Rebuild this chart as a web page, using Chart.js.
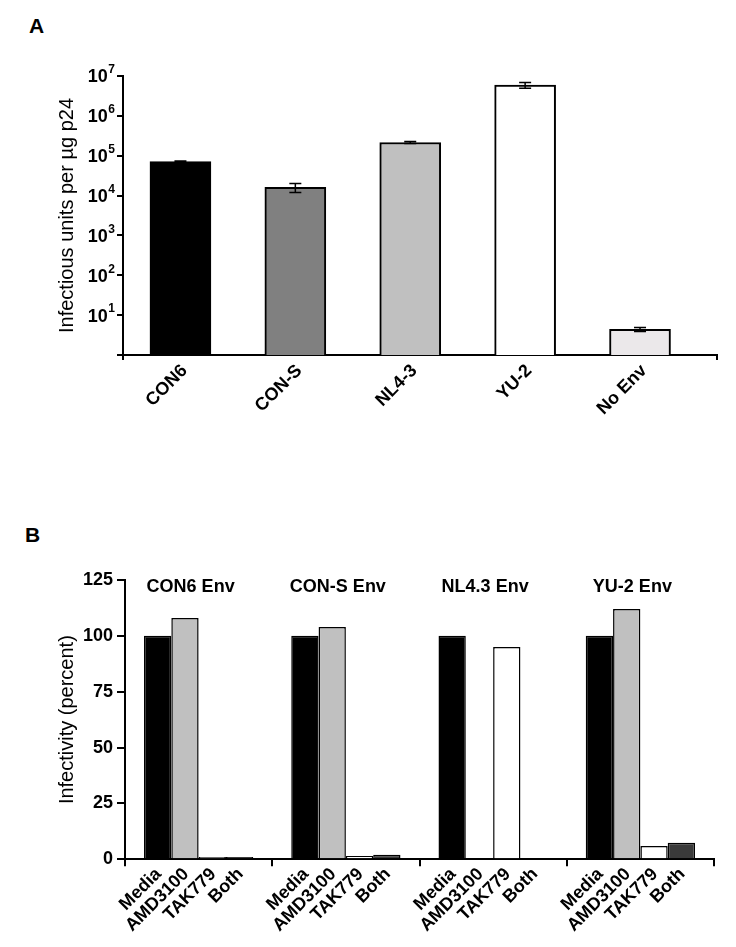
<!DOCTYPE html>
<html lang="en">
<head>
<meta charset="UTF-8">
<title>Infectivity of Env pseudoviruses</title>
<script src="https://cdn.jsdelivr.net/npm/chart.js@4.4.1/dist/chart.umd.min.js"></script>
<style>
    body { margin: 0; background: #fff; font-family: "Liberation Sans", Arial, sans-serif; }
    .panel-label { position: absolute; font-weight: bold; font-size: 21px; line-height: 1; }
    .chart-wrap { position: absolute; left: 0; width: 736px; }
</style>
</head>
<body>
<div class="panel-label" style="left:29px; top:15px;">A</div>
<div class="chart-wrap" style="top:0; height:460px;"><canvas id="chart-a"></canvas></div>
<div class="panel-label" style="left:25px; top:524px;">B</div>
<div class="chart-wrap" style="top:500px; height:447px;"><canvas id="chart-b"></canvas></div>

<script>
// Panel A: infectious units per ug p24 (log scale)
const envNames = ['CON6', 'CON-S', 'NL4-3', 'YU-2', 'No Env'];
const infectiousUnits = [71000, 16000, 215000, 5900000, 4.4];
const infectiousErr = [3000, 4000, 12000, 1000000, 0.5];
const barColorsA = ['#000000', '#808080', '#c0c0c0', '#ffffff', '#ebe8ea'];
const logTicks = [1, 10, 100, 1e3, 1e4, 1e5, 1e6, 1e7];

// Panel B: infectivity (percent) with entry inhibitors
const envGroups = ['CON6 Env', 'CON-S Env', 'NL4.3 Env', 'YU-2 Env'];
const media = [100, 100, 100, 100];
const amd3100 = [108, 104, 0, 112];
const tak779 = [1, 1.5, 95, 6];
const both = [1, 2, 0, 7.4];
const percentTicks = [0, 25, 50, 75, 100, 125];

const FONT = '"Liberation Sans", Arial, sans-serif';
Chart.defaults.font.family = FONT;
Chart.defaults.color = '#000';

// 45 degree label under a bar, right end anchored near the bar centre
function drawSlanted(ctx, text, x, y) {
    ctx.save();
    ctx.translate(x, y);
    ctx.rotate(-Math.PI / 4);
    ctx.fillText(text, 0, 0);
    ctx.restore();
}

// draws 10^n labels with a raised exponent next to each log tick
const powerLabels = {
    id: 'powerLabels',
    afterDraw(chart) {
        const { ctx, chartArea } = chart;
        const y = chart.scales.y;
        ctx.save();
        ctx.fillStyle = '#000';
        ctx.textBaseline = 'middle';
        logTicks.forEach(v => {
            if (v === 1) return;
            const py = y.getPixelForValue(v);
            const exp = String(Math.round(Math.log10(v)));
            const right = chartArea.left - 8;
            ctx.font = 'bold 12px ' + FONT;
            const ew = ctx.measureText(exp).width;
            ctx.textAlign = 'right';
            ctx.fillText(exp, right, py - 6);
            ctx.font = 'bold 18px ' + FONT;
            ctx.fillText('10', right - ew - 0.5, py + 1.5);
        });
        // category names under the bars
        ctx.font = 'bold 18px ' + FONT;
        ctx.textAlign = 'right';
        chart.getDatasetMeta(0).data.forEach((bar, i) => {
            drawSlanted(ctx, envNames[i], bar.x + 4, chartArea.bottom + 13);
        });
        ctx.restore();
    }
};

const errorBars = {
    id: 'errorBars',
    afterDatasetsDraw(chart) {
        const { ctx } = chart;
        const y = chart.scales.y;
        const meta = chart.getDatasetMeta(0);
        ctx.save();
        ctx.strokeStyle = '#000';
        ctx.lineWidth = 1.5;
        meta.data.forEach((bar, i) => {
            const v = infectiousUnits[i];
            const e = infectiousErr[i];
            const top = y.getPixelForValue(v + e);
            const bot = y.getPixelForValue(v - e);
            ctx.beginPath();
            ctx.moveTo(bar.x, top); ctx.lineTo(bar.x, bot);
            ctx.moveTo(bar.x - 6, top); ctx.lineTo(bar.x + 6, top);
            ctx.moveTo(bar.x - 6, bot); ctx.lineTo(bar.x + 6, bot);
            ctx.stroke();
        });
        ctx.restore();
    }
};

new Chart(document.getElementById('chart-a'), {
    type: 'bar',
    data: {
        datasets: [{
            data: infectiousUnits.map((v, i) => ({ x: i, y: v })),
            backgroundColor: barColorsA,
            borderColor: '#000',
            borderWidth: 2,
            barThickness: 61
        }]
    },
    options: {
        responsive: true,
        maintainAspectRatio: false,
        animation: false,
        layout: { padding: { top: 76, right: 19, left: 0, bottom: 0 } },
        plugins: { legend: { display: false }, tooltip: { enabled: false } },
        scales: {
            x: {
                type: 'linear',
                offset: false,
                min: -0.5,
                max: 4.67,
                afterBuildTicks: s => {
                    s.ticks = [s.min, ...envNames.map((_, i) => i), s.max].map(v => ({ value: v }));
                },
                afterFit: s => { s.height = 105; },
                ticks: { autoSkip: false, callback: () => '' },
                grid: {
                    offset: false,
                    drawOnChartArea: false,
                    tickLength: 5,
                    lineWidth: 2,
                    color: c => (c.tick && Number.isInteger(c.tick.value)) ? 'rgba(0,0,0,0)' : '#000'
                },
                border: { color: '#000', width: 2 }
            },
            y: {
                type: 'logarithmic',
                min: 1,
                max: 1e7,
                afterBuildTicks: s => { s.ticks = logTicks.map(v => ({ value: v })); },
                afterFit: s => { s.width = 123; },
                ticks: { padding: 3, callback: () => '' },
                grid: { drawOnChartArea: false, tickLength: 6, lineWidth: 2, color: '#000' },
                border: { color: '#000', width: 2 },
                title: {
                    display: true,
                    text: 'Infectious units per µg p24',
                    color: '#000',
                    font: { size: 20 },
                    padding: { top: 55, bottom: 0 }
                }
            }
        }
    },
    plugins: [errorBars, powerLabels]
});

const treatmentLabels = {
    id: 'treatmentLabels',
    afterDraw(chart) {
        const { ctx, chartArea } = chart;
        const x = chart.scales.x;
        ctx.save();
        ctx.fillStyle = '#000';
        ctx.font = 'bold 18px ' + FONT;
        ctx.textAlign = 'right';
        ctx.textBaseline = 'middle';
        chart.data.datasets.forEach((ds, i) => {
            chart.getDatasetMeta(i).data.forEach(bar => {
                drawSlanted(ctx, ds.label, bar.x + 1, chartArea.bottom + 12);
            });
        });
        // env group titles above the bars
        ctx.textAlign = 'center';
        envGroups.forEach((g, i) => {
            ctx.fillText(g, x.getPixelForValue(i) - 8, chartArea.top + 7);
        });
        ctx.restore();
    }
};

const barStyle = { borderColor: '#000', borderWidth: 1.5, barPercentage: 1, categoryPercentage: 0.742 };

new Chart(document.getElementById('chart-b'), {
    type: 'bar',
    data: {
        labels: envGroups,
        datasets: [
            { label: 'Media', data: media, backgroundColor: '#000000', ...barStyle },
            { label: 'AMD3100', data: amd3100, backgroundColor: '#c0c0c0', ...barStyle },
            { label: 'TAK779', data: tak779, backgroundColor: '#ffffff', ...barStyle },
            { label: 'Both', data: both, backgroundColor: '#3a3a3a', ...barStyle }
        ]
    },
    options: {
        responsive: true,
        maintainAspectRatio: false,
        animation: false,
        layout: { padding: { top: 80, right: 22, left: 0, bottom: 0 } },
        plugins: { legend: { display: false }, tooltip: { enabled: false } },
        scales: {
            x: {
                afterFit: s => { s.height = 87.7; },
                ticks: { display: false },
                grid: { offset: true, drawOnChartArea: false, tickLength: 7, lineWidth: 2, color: '#000' },
                border: { color: '#000', width: 2 }
            },
            y: {
                min: 0,
                max: 125,
                afterBuildTicks: s => { s.ticks = percentTicks.map(v => ({ value: v })); },
                afterFit: s => { s.width = 125; },
                ticks: { padding: 4, color: '#000', font: { size: 18, weight: 'bold' } },
                grid: { drawOnChartArea: false, tickLength: 8, lineWidth: 2, color: '#000' },
                border: { color: '#000', width: 2 },
                title: {
                    display: true,
                    text: 'Infectivity (percent)',
                    color: '#000',
                    font: { size: 20 },
                    padding: { top: 55, bottom: 0 }
                }
            }
        }
    },
    plugins: [treatmentLabels]
});
</script>
</body>
</html>
